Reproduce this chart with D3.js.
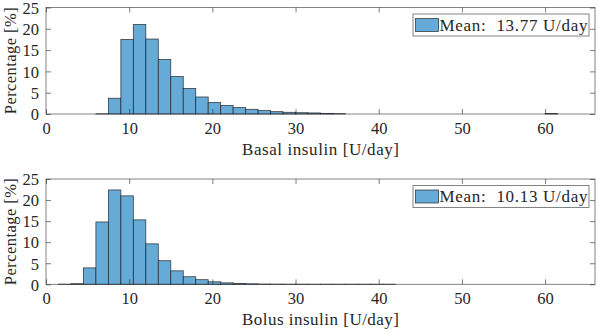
<!DOCTYPE html>
<html>
<head>
<meta charset="utf-8">
<script src="https://cdn.jsdelivr.net/npm/d3@7"></script>
<style>
  body { margin: 0; background: #fff; }
  text { font-family: "Liberation Serif", "DejaVu Serif", serif; fill: #262626; }
</style>
</head>
<body>
<div id="chart"></div>
<script>
// histogram bins: lower edges (bin width 1.5 U/day) and percentages
var binWidth = 1.5;
var basalEdges = [6, 7.5, 9, 10.5, 12, 13.5, 15, 16.5, 18, 19.5, 21, 22.5, 24, 25.5, 27, 28.5, 30, 31.5, 33, 34.5, 60];
var basalPct   = [0.05, 3.7, 17.5, 21, 17.6, 12.8, 8.8, 6, 4, 2.7, 2, 1.5, 1.1, 0.8, 0.55, 0.4, 0.3, 0.25, 0.15, 0.08, 0.1];
var bolusEdges = [1.5, 3, 4.5, 6, 7.5, 9, 10.5, 12, 13.5, 15, 16.5, 18, 19.5, 21, 22.5, 24, 25.5, 27, 28.5, 30, 31.5, 33, 34.5, 36, 37.5, 39, 40.5];
var bolusPct   = [0.03, 0.15, 3.9, 14.8, 22.4, 21, 15.3, 9.6, 5.6, 3.2, 1.8, 1.1, 0.6, 0.35, 0.2, 0.12, 0.06, 0.04, 0.03, 0.03, 0.02, 0.02, 0.02, 0.02, 0.02, 0.02, 0.02];
var xTicks = [0, 10, 20, 30, 40, 50, 60];
var yTicks = [0, 5, 10, 15, 20, 25];
var panels = [
  {edges: basalEdges, pct: basalPct, xlabel: "Basal insulin [U/day]", legend: "Mean:  13.77 U/day", top: 7.5, bottom: 114},
  {edges: bolusEdges, pct: bolusPct, xlabel: "Bolus insulin [U/day]", legend: "Mean:  10.13 U/day", top: 179, bottom: 284.3}
];

var W = 598, H = 333;
var left = 46, right = 595;
var axisColor = "#262626";
var barFill = "#66aad7";

var svg = d3.select("#chart").append("svg")
    .attr("width", W)
    .attr("height", H);

var x = d3.scaleLinear().domain([0, 66]).range([left, right]);

panels.forEach(function(p) {
  var y = d3.scaleLinear().domain([0, 25]).range([p.bottom, p.top]);
  var g = svg.append("g");

  // bars
  g.selectAll("rect.bar")
      .data(p.edges.map(function(e, i) { return [e, p.pct[i]]; }))
    .enter().append("rect")
      .attr("class", "bar")
      .attr("x", function(d) { return x(d[0]); })
      .attr("width", function(d) { return x(d[0] + binWidth) - x(d[0]); })
      .attr("y", function(d) { return y(d[1]); })
      .attr("height", function(d) { return y(0) - y(d[1]); })
      .attr("fill", barFill)
      .attr("stroke", "#1a1a1a")
      .attr("stroke-opacity", 0.8)
      .attr("stroke-width", 0.8);

  // axes (MATLAB style: ticks inside, box on)
  var tl = 5;
  g.append("g")
      .attr("transform", "translate(0," + p.bottom + ")")
      .call(d3.axisBottom(x).tickValues(xTicks).tickSizeInner(-tl).tickSizeOuter(0).tickPadding(8))
      .call(function(a) {
        a.select(".domain").remove();
        a.selectAll("text").attr("font-size", 16.5).style("font-family", "Liberation Serif");
      });
  g.append("g")
      .attr("transform", "translate(0," + p.top + ")")
      .call(d3.axisTop(x).tickValues(xTicks).tickSizeInner(-tl).tickSizeOuter(0).tickFormat(""))
      .call(function(a) { a.select(".domain").remove(); });
  g.append("g")
      .attr("transform", "translate(" + left + ",0)")
      .call(d3.axisLeft(y).tickValues(yTicks).tickSizeInner(-tl).tickSizeOuter(0).tickPadding(7))
      .call(function(a) {
        a.select(".domain").remove();
        a.selectAll("text").attr("font-size", 16.5).attr("dy", "0.35em").style("font-family", "Liberation Serif");
      });
  g.append("g")
      .attr("transform", "translate(" + right + ",0)")
      .call(d3.axisRight(y).tickValues(yTicks).tickSizeInner(-tl).tickSizeOuter(0).tickFormat(""))
      .call(function(a) { a.select(".domain").remove(); });
  g.selectAll(".tick line").attr("stroke", axisColor).attr("stroke-width", 0.6);

  g.append("rect")
      .attr("x", left).attr("y", p.top)
      .attr("width", right - left).attr("height", p.bottom - p.top)
      .attr("fill", "none")
      .attr("stroke", axisColor)
      .attr("stroke-opacity", 0.7)
      .attr("stroke-width", 0.8);

  // labels
  g.append("text")
      .attr("x", (left + right) / 2)
      .attr("y", p.bottom + 41)
      .attr("text-anchor", "middle")
      .attr("font-size", 17)
      .attr("textLength", 157)
      .attr("lengthAdjust", "spacing")
      .text(p.xlabel);
  g.append("text")
      .attr("transform", "translate(16," + ((p.top + p.bottom) / 2) + ") rotate(-90)")
      .attr("text-anchor", "middle")
      .attr("font-size", 16.5)
      .attr("textLength", 107)
      .attr("lengthAdjust", "spacing")
      .text("Percentage [%]");

  // legend
  var lg = g.append("g").attr("transform", "translate(413," + (p.top + 6.5) + ")");
  lg.append("rect")
      .attr("width", 176).attr("height", 22)
      .attr("fill", "#fff")
      .attr("stroke", axisColor).attr("stroke-opacity", 0.7).attr("stroke-width", 0.8);
  lg.append("rect")
      .attr("x", 2.5).attr("y", 4.5).attr("width", 23).attr("height", 13)
      .attr("fill", barFill)
      .attr("stroke", "#1a1a1a").attr("stroke-opacity", 0.8).attr("stroke-width", 0.8);
  lg.append("text")
      .attr("x", 26.5).attr("y", 16.5)
      .attr("font-size", 17)
      .attr("textLength", 148)
      .attr("lengthAdjust", "spacing")
      .attr("xml:space", "preserve")
      .style("white-space", "pre")
      .text(p.legend);
});
</script>
</body>
</html>
